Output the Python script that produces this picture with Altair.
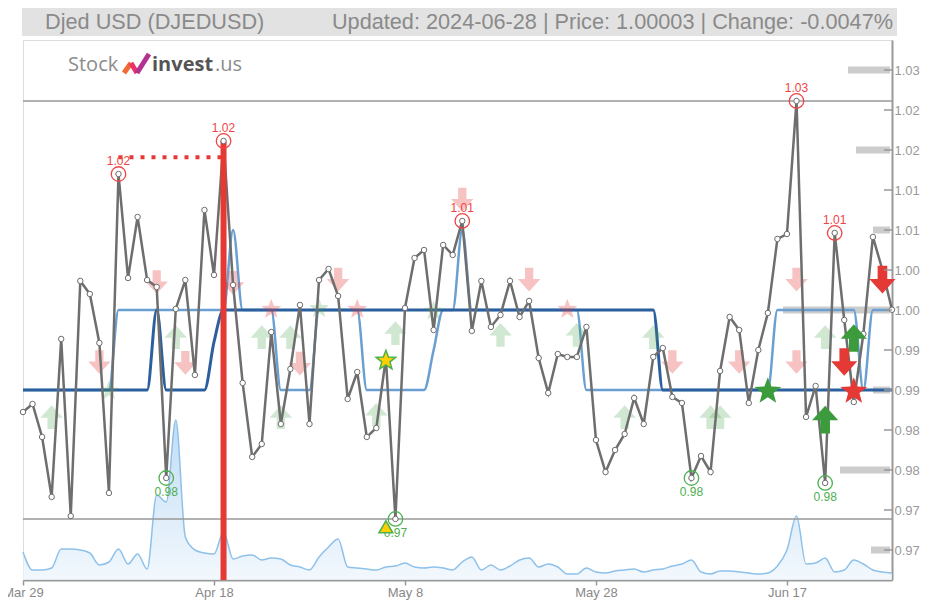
import math
import altair as alt
import pandas as pd

# ---------------- data ----------------
start, end = "2024-03-29", "2024-06-28"
dates = pd.date_range(start, end, freq="D").strftime("%Y-%m-%d").tolist()

price = [0.98725, 0.98825, 0.98413, 0.97663, 0.99638, 0.97425, 1.00363, 1.002, 0.99588, 0.97713,
         1.017, 1.004, 1.01163, 1.00375, 1.00288, 0.979, 1.00013, 1.00375, 0.99188, 1.0125,
         1.00438, 1.02113, 1.00313, 0.99088, 0.98163, 0.98325, 0.99725, 0.98575, 0.99263, 1.00063,
         0.98575, 1.00375, 1.00513, 1.00175, 0.98888, 0.99225, 0.98413, 0.98525, 0.994, 0.97388,
         1.00025, 1.0065, 1.0075, 0.9975, 1.00813, 1.00688, 1.01113, 0.99738, 1.00363, 0.99788,
         0.99938, 1.00363, 0.99913, 1.00113, 0.994, 0.98963, 0.9945, 0.99413, 0.99413, 0.99788,
         0.98375, 0.97975, 0.9825, 0.9845, 0.989, 0.98575, 0.99413, 0.99525, 0.98913, 0.98838,
         0.979, 0.98175, 0.97975, 0.99238, 0.99913, 0.9975, 0.98838, 0.995, 0.99963, 1.00888,
         1.0095, 1.02613, 0.98663, 0.9905, 0.97838, 1.00963, 0.99875, 0.9885, 0.997, 1.00913,
         1.005, 1.00003]

fast_band = ([0.99] * 10 + [1.00] * 12 + [1.01] + [1.00] * 4 + [0.99] * 4 + [1.00] * 5 +
             [0.99] * 7 + [0.995] + [1.00] * 2 + [1.01] + [1.00] * 12 + [0.99] * 20 +
             [1.00] * 9 + [0.99] + [1.00] * 3)
slow_band = ([0.99] * 14 + [1.00] + [0.99] * 5 + [0.996] + [1.00] * 46 + [0.99] * 25)

volume = [28, 10, 10, 12, 31, 31, 30, 27, 15, 18,
          31, 16, 26, 11, 85, 78, 160, 43, 30, 27,
          26, 48, 21, 24, 25, 20, 22, 21, 15, 13,
          10, 23, 33, 41, 13, 12, 11, 10, 13, 14,
          17, 13, 12, 13, 12, 10, 18, 23, 10, 15,
          10, 14, 20, 22, 13, 16, 13, 6, 6, 12,
          8, 7, 9, 10, 11, 8, 10, 11, 14, 16,
          20, 8, 6, 9, 9, 8, 7, 6, 7, 14,
          30, 64, 16, 17, 22, 8, 10, 20, 16, 10,
          8, 7]

y_ticks = [0.97, 0.975, 0.98, 0.985, 0.99, 0.995, 1.0, 1.005, 1.01, 1.015, 1.02, 1.025, 1.03]
x_ticks = ["2024-03-29", "2024-04-18", "2024-05-08", "2024-05-28", "2024-06-17"]

profile_levels = [1.03, 1.02, 1.01, 1.00, 0.99, 0.98, 0.97]
profile_weight = [42, 34, 17, 107, 17, 50, 19]

hi_idx = [10, 21, 46, 81, 85]
lo_idx = [15, 39, 70, 84]
signal_idx = 21
resistance_level = 1.0191

faded_down = [("2024-04-06", 0.9935), ("2024-04-12", 1.0035), ("2024-04-15", 0.9934),
              ("2024-04-20", 1.0034), ("2024-04-27", 0.9933), ("2024-05-01", 1.0038),
              ("2024-05-14", 1.0138), ("2024-05-21", 1.0038), ("2024-06-05", 0.9935),
              ("2024-06-12", 0.9935), ("2024-06-18", 1.0038), ("2024-06-18", 0.9935)]
faded_red_star = [("2024-04-24", 1.0002), ("2024-05-03", 1.0002), ("2024-05-25", 1.0002)]
faded_up = [("2024-04-01", 0.9866), ("2024-04-14", 0.9966), ("2024-04-23", 0.9966),
            ("2024-04-26", 0.9966), ("2024-04-25", 0.9866), ("2024-05-05", 0.9869),
            ("2024-05-07", 0.9971), ("2024-05-18", 0.9969), ("2024-05-26", 0.9969),
            ("2024-05-31", 0.9866), ("2024-06-03", 0.9966), ("2024-06-09", 0.9866),
            ("2024-06-10", 0.9866), ("2024-06-21", 0.9966)]
faded_green_star = [("2024-04-07", 0.99), ("2024-04-29", 1.0003), ("2024-05-11", 1.0)]
strong_down = [("2024-06-23", 0.9935), ("2024-06-27", 1.0038)]
strong_up = [("2024-06-24", 0.9965), ("2024-06-21", 0.9863)]
green_star = [("2024-06-15", 0.99)]
red_star = [("2024-06-24", 0.99)]
yellow_star = [("2024-05-06", 0.9938)]
yellow_tri = [("2024-05-06", 0.9729)]

title_left = "Djed USD (DJEDUSD)"
title_right = "Updated: 2024-06-28 | Price: 1.00003 | Change: -0.0047%"

# ---------------- layout ----------------
W, H = 869, 540
Y_HI = 1.03375
Y_LO = Y_HI - H / 8000.0
FONT = "Liberation Sans"

df = pd.DataFrame({"date": dates, "price": price, "fast": fast_band,
                   "slow": slow_band, "volume": volume})


def dt(s):
    return alt.DateTime(year=int(s[:4]), month=int(s[5:7]), date=int(s[8:10]), utc=True)


XS = alt.Scale(type="utc", domain=[dt(start), dt(end)])
YS = alt.Scale(domain=[Y_LO, Y_HI], nice=False, zero=False)


def X(f="date", axis=None):
    return alt.X(f"{f}:T", scale=XS, axis=axis, title=None)


def Y(f="price", axis=None):
    return alt.Y(f"{f}:Q", scale=YS, axis=axis, title=None)


def pts(rows):
    return pd.DataFrame(rows, columns=["date", "price"])


DOWN = "M-0.35,-1L0.35,-1L0.35,-0.05L0.95,-0.05L0,1L-0.95,-0.05L-0.35,-0.05Z"
UP = "M-0.35,1L0.35,1L0.35,0.05L0.95,0.05L0,-1L-0.95,0.05L-0.35,0.05Z"
_sp = []
for k in range(10):
    r = 1.0 if k % 2 == 0 else 0.42
    a = math.radians(-90 + 36 * k)
    _sp.append(f"{r * math.cos(a):.3f},{r * math.sin(a) + 0.09:.3f}")
STAR = "M" + "L".join(_sp) + "Z"


def sym(rows, shape, size, color, opacity=1.0, **kw):
    return alt.Chart(pts(rows)).mark_point(shape=shape, size=size, filled=True, fill=color,
                                           opacity=opacity, **kw).encode(x=X(), y=Y())


one = pd.DataFrame({"t": [title_left]})
layers = []

# title bar
layers.append(alt.Chart(one).mark_rect(color="#e2e2e2").encode(
    x=alt.value(-1), x2=alt.value(874), y=alt.value(-33), y2=alt.value(-4)))
layers.append(alt.Chart(pd.DataFrame({"t": [title_left]})).mark_text(
    align="left", baseline="middle", fontSize=21.7, color="#8a8a8a", font=FONT).encode(
    x=alt.value(22), y=alt.value(-18), text="t:N"))
layers.append(alt.Chart(pd.DataFrame({"t": [title_right]})).mark_text(
    align="right", baseline="middle", fontSize=21.7, color="#8a8a8a", font=FONT).encode(
    x=alt.value(870), y=alt.value(-18), text="t:N"))

# logo
layers.append(alt.Chart(pd.DataFrame({"t": ["Stock"]})).mark_text(
    align="left", baseline="middle", fontSize=20, color="#8c8c8c", font="Open Sans").encode(
    x=alt.value(45), y=alt.value(25), text="t:N"))
for (x1, y1, x2, y2, c) in [(101, 33, 108, 23, "#f26a34"), (108, 23, 114, 33, "#e8336d"),
                            (114, 33, 126, 14, "#b1338f")]:
    layers.append(alt.Chart(one).mark_rule(color=c, strokeWidth=5).encode(
        x=alt.value(x1), y=alt.value(y1), x2=alt.value(x2), y2=alt.value(y2)))
layers.append(alt.Chart(pd.DataFrame({"t": ["invest"]})).mark_text(
    align="left", baseline="middle", fontSize=20, color="#555555", fontWeight="bold",
    font="Open Sans").encode(x=alt.value(129), y=alt.value(25), text="t:N"))
layers.append(alt.Chart(pd.DataFrame({"t": [".us"]})).mark_text(
    align="left", baseline="middle", fontSize=20, color="#8c8c8c", font="Open Sans").encode(
    x=alt.value(192), y=alt.value(25), text="t:N"))

# price-level profile bars at right
prof = pd.DataFrame({"level": profile_levels, "w": profile_weight})
layers.append(alt.Chart(prof).mark_rule(color="#cccccc", strokeWidth=7).encode(
    y=Y("level"),
    x=alt.X("w:Q", scale=alt.Scale(domain=[0, W], range=[W - 2, -2]), axis=None),
    x2=alt.value(W - 2)))

# volume area
layers.append(alt.Chart(df).mark_area(
    interpolate="monotone",
    line={"color": "#8ec1ea", "strokeWidth": 1.5},
    color=alt.Gradient(gradient="linear",
                       stops=[alt.GradientStop(color="#edf5fc", offset=0),
                              alt.GradientStop(color="#a6cdf0", offset=1)],
                       x1=1, x2=1, y1=1, y2=0)).encode(
    x=X(), y=alt.Y("volume:Q", scale=alt.Scale(domain=[0, H]), axis=None)))

# max / min lines
mm = pd.DataFrame({"v": [max(price), min(price)]})
layers.append(alt.Chart(mm).mark_rule(color="#999999", strokeWidth=1.5).encode(
    y=Y("v"), x=alt.value(0), x2=alt.value(W)))

# bands
layers.append(alt.Chart(df).mark_line(interpolate="monotone", color="#6a9fd2",
                                      strokeWidth=2.5).encode(x=X(), y=Y("fast")))
layers.append(alt.Chart(df).mark_line(interpolate="monotone", color="#2b5f9e",
                                      strokeWidth=3).encode(x=X(), y=Y("slow")))

# faded signals
layers.append(sym(faded_down, DOWN, 560, "#e53935", 0.3))
layers.append(sym(faded_red_star, STAR, 440, "#e53935", 0.3))
layers.append(sym(faded_up, UP, 560, "#43a047", 0.25))
layers.append(sym(faded_green_star, STAR, 440, "#43a047", 0.25))

# resistance dotted line
res = pd.DataFrame({"d1": [dates[hi_idx[0]]], "d2": [dates[signal_idx]], "v": [resistance_level]})
layers.append(alt.Chart(res).mark_rule(color="#e53935", strokeWidth=4, strokeDash=[4, 7]).encode(
    x=X("d1"), x2=alt.X2("d2:T"), y=Y("v")))

# price line (carries the right axis)
layers.append(alt.Chart(df).mark_line(color="#6e6e6e", strokeWidth=2.5).encode(
    x=X(), y=Y("price", axis=alt.Axis(
        orient="right", values=y_ticks,
        labelExpr="substring(format(datum.value, '.3f'), 0, 4)",
        tickSize=0, labelPadding=2, domainColor="#999999", domainWidth=2,
        labelColor="#999999", labelFontSize=13, labelFont=FONT, grid=False))))

# x axis (own layer)
layers.append(alt.Chart(df).mark_point(opacity=0).encode(
    x=X(axis=alt.Axis(orient="bottom", values=[dt(s) for s in x_ticks],
                      labelExpr="utcFormat(datum.value, '%b %-d')",
                      tickSize=5, tickColor="#999999", tickWidth=1.5, domainColor="#999999",
                      domainWidth=2, labelColor="#888888", labelFontSize=13, labelFont=FONT,
                      labelPadding=1, labelFlush=False, labelOverlap=False, grid=False)),
    y=Y()))

# signal vertical line
layers.append(alt.Chart(df.iloc[[signal_idx]]).mark_rule(color="#e53935", strokeWidth=6).encode(
    x=X(), y=Y(), y2=alt.value(H)))

# price points
layers.append(alt.Chart(df).mark_point(shape="circle", size=30, filled=True, fill="white",
                                       stroke="#6e6e6e", strokeWidth=1, opacity=1).encode(
    x=X(), y=Y()))

# extremes
hi = df.iloc[hi_idx]
lo = df.iloc[lo_idx]
layers.append(alt.Chart(hi).mark_point(shape="circle", size=210, filled=False, color="#ef4444",
                                       strokeWidth=1.3, opacity=1).encode(x=X(), y=Y()))
layers.append(alt.Chart(hi).mark_text(dy=-13, fontSize=12, color="#ef4444", font=FONT).encode(
    x=X(), y=Y(), text=alt.Text("price:Q", format=".2f")))
layers.append(alt.Chart(lo).mark_point(shape="circle", size=210, filled=False, color="#4caf50",
                                       strokeWidth=1.3, opacity=1).encode(x=X(), y=Y()))
layers.append(alt.Chart(lo).mark_text(dy=14, fontSize=12, color="#4caf50", font=FONT).encode(
    x=X(), y=Y(), text=alt.Text("price:Q", format=".2f")))

# strong signals
layers.append(sym(green_star, STAR, 800, "#3c9b3c"))
layers.append(sym(red_star, STAR, 800, "#e53935"))
layers.append(sym(strong_down, DOWN, 760, "#e53935"))
layers.append(sym(strong_up, UP, 760, "#3c9b3c"))
layers.append(sym(yellow_star, STAR, 420, "#ffd000", stroke="#4caf50", strokeWidth=1.5))
layers.append(sym(yellow_tri, "triangle-up", 190, "#ffd000", stroke="#4caf50", strokeWidth=1.5))

# inward y ticks
layers.append(alt.Chart(pd.DataFrame({"v": y_ticks})).mark_rule(color="#999999", strokeWidth=1.5).encode(
    y=Y("v"), x=alt.value(W - 8), x2=alt.value(W)))

chart = alt.layer(*layers).resolve_scale(x="independent", y="independent").properties(
    width=W, height=H,
    padding={"left": 15, "top": 32, "right": 28, "bottom": 20},
    autosize=alt.AutoSizeParams(type="none"),
).configure_view(stroke=None).configure(font=FONT)

chart.save("out.html", embed_options={"renderer": "svg", "actions": False})
